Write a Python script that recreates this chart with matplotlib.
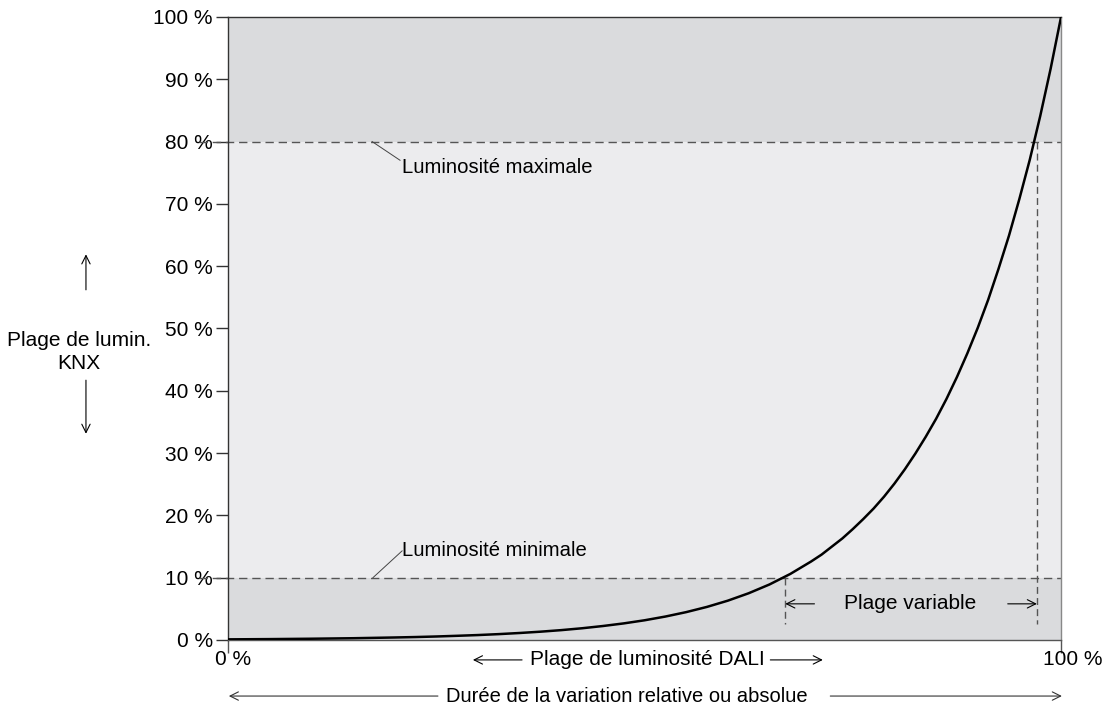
import numpy as np
import matplotlib
matplotlib.use('Agg')
import matplotlib.pyplot as plt

plt.rcParams['font.family'] = ['Liberation Sans', 'DejaVu Sans']

# relative dimming time (0..1) and luminosity in %
dim_time = [0.0, 0.025, 0.05, 0.075, 0.1, 0.125, 0.15, 0.175, 0.2, 0.225,
            0.25, 0.275, 0.3, 0.325, 0.35, 0.375, 0.4, 0.425, 0.45, 0.475,
            0.5, 0.525, 0.55, 0.575, 0.6, 0.625, 0.65, 0.675, 0.7, 0.7125,
            0.725, 0.7375, 0.75, 0.7625, 0.775, 0.7875, 0.8, 0.8125, 0.825,
            0.8375, 0.85, 0.8625, 0.875, 0.8875, 0.9, 0.9125, 0.925, 0.9375,
            0.95, 0.9625, 0.975, 0.9875, 1.0]
luminosity = [0.10, 0.12, 0.14, 0.17, 0.20, 0.24, 0.28, 0.34, 0.40, 0.47,
              0.56, 0.67, 0.79, 0.94, 1.12, 1.33, 1.58, 1.88, 2.24, 2.66,
              3.16, 3.76, 4.47, 5.31, 6.31, 7.50, 8.91, 10.6, 12.6, 13.7,
              15.0, 16.3, 17.8, 19.4, 21.1, 23.0, 25.1, 27.4, 29.9,
              32.6, 35.5, 38.7, 42.2, 46.0, 50.1, 54.6, 59.6, 64.9,
              70.8, 77.1, 84.1, 91.7, 100.0]

y_ticks = [0, 10, 20, 30, 40, 50, 60, 70, 80, 90, 100]
y_labels = ['%d %%' % v for v in y_ticks]
lum_min = 10
lum_max = 80
t_min = 0.669
t_max = 0.971

dark_band = '#dadbdd'
light_band = '#ececee'
dash_col = '#555555'

fig = plt.figure(figsize=(11.1, 7.07), dpi=100)
ax = fig.add_axes([0.2054, 0.0948, 0.7505, 0.8812])
ax.set_xlim(0, 1)
ax.set_ylim(0, 100)

# background bands
ax.axhspan(0, lum_min, color=dark_band, lw=0)
ax.axhspan(lum_min, lum_max, color=light_band, lw=0)
ax.axhspan(lum_max, 100, color=dark_band, lw=0)

# min / max dashed lines (start at the tick, left of the axis)
for yv in (lum_min, lum_max):
    ax.plot([-0.035, 1.0], [yv, yv], color=dash_col, lw=1.0,
            dashes=(6, 3.5), clip_on=False)

# vertical dashed lines
ax.plot([t_min, t_min], [lum_min, 2.5], color=dash_col, lw=1.0, dashes=(5, 3))
ax.plot([t_max, t_max], [lum_max, 2.5], color=dash_col, lw=1.0, dashes=(5, 3))

ax.plot(dim_time, luminosity, color='black', lw=1.8, zorder=5)

fs = 15
ax.set_yticks(y_ticks)
ax.set_yticklabels(y_labels, fontsize=fs)
ax.set_xticks([0, 1])
ax.set_xticklabels([])
ax.tick_params(axis='y', length=9, width=1, color='#333333', pad=2)
ax.tick_params(axis='x', length=9, width=1, color='#555555')

for side, col in (('left', '#333333'), ('top', '#333333'),
                  ('right', '#888888'), ('bottom', '#555555')):
    ax.spines[side].set_color(col)
    ax.spines[side].set_linewidth(1.0)

ax.text(0.006, -1.6, '0 %', fontsize=fs, ha='center', va='top')
ax.text(1.014, -1.6, '100 %', fontsize=fs, ha='center', va='top')

head = '->, head_length=0.6, head_width=0.3'
arrow = dict(arrowstyle=head, color='black', lw=0.8, shrinkA=0, shrinkB=0)
arrow_g = dict(arrowstyle=head, color='#333333', lw=0.8, shrinkA=0, shrinkB=0)

# leader lines for min / max
ax.plot([0.173, 0.2065], [lum_max, 77.0], color='#444444', lw=0.7)
ax.text(0.209, 75.9, 'Luminosité maximale', fontsize=14.6, va='center')
ax.plot([0.174, 0.209], [lum_min, 14.3], color='#444444', lw=0.7)
ax.text(0.209, 14.3, 'Luminosité minimale', fontsize=14.6, va='center')

# variable range
ax.annotate('', xy=(t_min, 5.8), xytext=(0.704, 5.8), arrowprops=arrow)
ax.annotate('', xy=(t_max, 5.8), xytext=(0.936, 5.8), arrowprops=arrow)
ax.text(0.819, 5.8, 'Plage variable', fontsize=fs, ha='center', va='center')

# DALI range below axis
ax.text(0.503, -3.2, 'Plage de luminosité DALI', fontsize=fs,
        ha='center', va='center')
ax.annotate('', xy=(0.294, -3.2), xytext=(0.353, -3.2), arrowprops=arrow,
            annotation_clip=False)
ax.annotate('', xy=(0.714, -3.2), xytext=(0.651, -3.2), arrowprops=arrow,
            annotation_clip=False)

# dimming time
ax.text(0.479, -9.0, 'Durée de la variation relative ou absolue',
        fontsize=14.5, ha='center', va='center')
ax.annotate('', xy=(0.001, -9.0), xytext=(0.252, -9.0), arrowprops=arrow_g,
            annotation_clip=False)
ax.annotate('', xy=(1.001, -9.0), xytext=(0.723, -9.0), arrowprops=arrow_g,
            annotation_clip=False)

# KNX range on the left
ax.text(-0.179, 46.2, 'Plage de lumin.\nKNX', fontsize=fs, ha='center',
        va='center', linespacing=1.25)
ax.annotate('', xy=(-0.1705, 61.9), xytext=(-0.1705, 56.2), arrowprops=arrow,
            annotation_clip=False)
ax.annotate('', xy=(-0.1705, 33.1), xytext=(-0.1705, 41.7), arrowprops=arrow,
            annotation_clip=False)

fig.savefig('out.png', dpi=100)
